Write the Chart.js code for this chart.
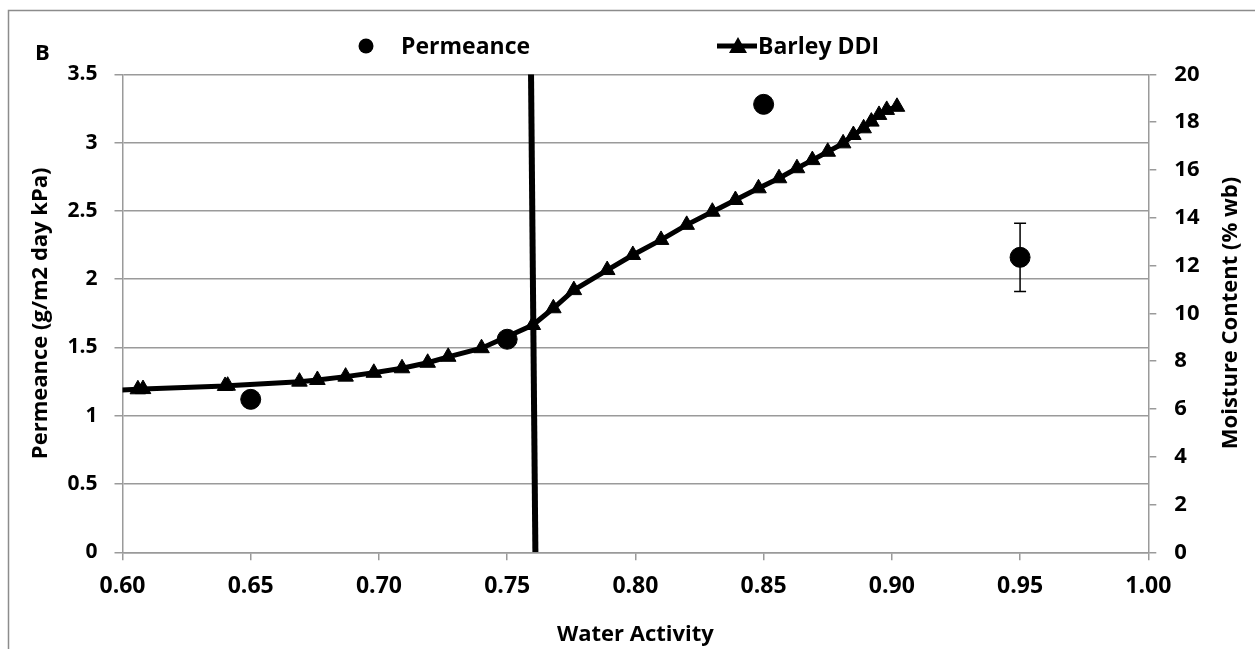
<!DOCTYPE html>
<html>
<head>
<meta charset="utf-8">
<script src="https://cdn.jsdelivr.net/npm/chart.js@4"></script>
<style>
  html, body { margin: 0; padding: 0; background: #fff; }
  canvas { display: block; }
</style>
</head>
<body>
<canvas id="chart" width="1255" height="649"></canvas>
<script>
// Permeance measurements (left axis)
const permX = [0.65, 0.75, 0.85, 0.95];
const permY = [1.12, 1.56, 3.28, 2.16];
const permErrLow = [null, null, null, 1.91];
const permErrHigh = [null, null, null, 2.41];

// Barley DDI isotherm (right axis)
const ddiX = [0.590, 0.606, 0.608, 0.640, 0.641, 0.669, 0.676, 0.687, 0.698, 0.709, 0.719, 0.727, 0.740, 0.760,
              0.768, 0.776, 0.789, 0.799, 0.810, 0.820, 0.830, 0.839, 0.848, 0.856, 0.863, 0.869, 0.875,
              0.881, 0.885, 0.889, 0.892, 0.895, 0.898, 0.902];
const ddiY = [6.75, 6.82, 6.83, 6.96, 6.97, 7.14, 7.21, 7.35, 7.51, 7.70, 7.93, 8.18, 8.54, 9.51,
              10.21, 10.97, 11.81, 12.44, 13.07, 13.70, 14.25, 14.74, 15.23, 15.65, 16.07, 16.41, 16.76,
              17.11, 17.46, 17.74, 18.02, 18.30, 18.51, 18.64];

// vertical marker line
const markX = [0.7610, 0.7593];
const markY = [0, 3.5];

// tick labels
const xTicks = [0.60, 0.65, 0.70, 0.75, 0.80, 0.85, 0.90, 0.95, 1.00];
const leftTicks = [0, 0.5, 1, 1.5, 2, 2.5, 3, 3.5];
const rightTicks = [0, 2, 4, 6, 8, 10, 12, 14, 16, 18, 20];

const FONT = "'Open Sans', sans-serif";
const GRID = '#9a9a9a';

const pts = (xs, ys) => xs.map((x, i) => ({x: x, y: ys[i]}));

const extras = {
    id: 'extras',
    beforeDraw(chart) {
        const c = chart.ctx;
        c.save();
        c.fillStyle = '#fff';
        c.fillRect(0, 0, chart.width, chart.height);
        c.strokeStyle = '#8c8c8c';
        c.lineWidth = 1.5;
        c.strokeRect(8.5, 10.5, 1300, 700);
        c.restore();
    },
    beforeDatasetsDraw(chart) {
        const c = chart.ctx, xs = chart.scales.x, ys = chart.scales.y;
        c.save();
        c.strokeStyle = '#000';
        c.lineWidth = 1.5;
        permX.forEach((v, i) => {
            if (permErrLow[i] == null) return;
            const px = xs.getPixelForValue(v);
            const lo = ys.getPixelForValue(permErrLow[i]);
            const hi = ys.getPixelForValue(permErrHigh[i]);
            c.beginPath();
            c.moveTo(px, lo); c.lineTo(px, hi);
            c.moveTo(px - 6, lo); c.lineTo(px + 6, lo);
            c.moveTo(px - 6, hi); c.lineTo(px + 6, hi);
            c.stroke();
        });
        c.restore();
    },
    afterDraw(chart) {
        const c = chart.ctx;
        c.save();
        c.fillStyle = '#000';
        c.strokeStyle = '#000';
        // panel letter
        c.font = 'bold 22px ' + FONT;
        c.textBaseline = 'alphabetic';
        c.fillText('B', 35, 60);
        // legend
        c.font = 'bold 23px ' + FONT;
        c.beginPath();
        c.arc(366, 46, 7.5, 0, Math.PI * 2);
        c.fill();
        c.fillText('Permeance', 401, 54);
        c.lineWidth = 5;
        c.beginPath();
        c.moveTo(717, 46); c.lineTo(757, 46);
        c.stroke();
        c.beginPath();
        c.moveTo(738, 37); c.lineTo(747, 53); c.lineTo(729, 53);
        c.closePath();
        c.fill();
        c.fillText('Barley DDI', 758, 54);
        // right axis title
        c.font = 'bold 22px ' + FONT;
        c.translate(1231, 313);
        c.rotate(-Math.PI / 2);
        c.textAlign = 'center';
        c.textBaseline = 'middle';
        c.fillText('Moisture Content (% wb)', 0, 0);
        c.restore();
    }
};

new Chart(document.getElementById('chart'), {
    type: 'scatter',
    data: {
        datasets: [{
            label: 'Permeance',
            data: pts(permX, permY),
            yAxisID: 'y',
            backgroundColor: '#000',
            borderColor: '#000',
            pointRadius: 10,
            showLine: false,
            order: 0
        }, {
            label: 'marker',
            data: pts(markX, markY),
            yAxisID: 'y',
            borderColor: '#000',
            borderWidth: 6,
            pointRadius: 0,
            showLine: true,
            order: 1
        }, {
            label: 'Barley DDI',
            data: pts(ddiX, ddiY),
            yAxisID: 'y2',
            borderColor: '#000',
            backgroundColor: '#000',
            borderWidth: 5,
            pointStyle: 'triangle',
            pointRadius: 9,
            pointBorderWidth: 1,
            showLine: true,
            tension: 0,
            order: 2
        }]
    },
    options: {
        responsive: false,
        animation: false,
        events: [],
        layout: { padding: { top: 74.3 } },
        plugins: {
            legend: { display: false },
            tooltip: { enabled: false }
        },
        scales: {
            x: {
                type: 'linear',
                min: 0.6,
                max: 1.0,
                afterBuildTicks: s => { s.ticks = xTicks.map(v => ({value: v})); },
                afterFit: s => { s.height = 96.7; },
                ticks: {
                    callback: v => v.toFixed(2),
                    font: { family: FONT, size: 23, weight: 'bold' },
                    color: '#000',
                    padding: 12
                },
                grid: { drawOnChartArea: false, drawTicks: true, tickLength: 8, color: GRID, lineWidth: 1.5 },
                border: { color: GRID, width: 1.5 },
                title: {
                    display: true,
                    text: 'Water Activity',
                    font: { family: FONT, size: 22, weight: 'bold' },
                    color: '#000',
                    padding: { top: 0, bottom: 1 }
                }
            },
            y: {
                position: 'left',
                min: 0,
                max: 3.5,
                afterBuildTicks: s => { s.ticks = leftTicks.map(v => ({value: v})); },
                afterFit: s => { s.width = 122.5; },
                ticks: {
                    callback: v => String(v),
                    font: { family: FONT, size: 21, weight: 'bold' },
                    color: '#000',
                    padding: 17
                },
                grid: { drawTicks: true, tickLength: 8, color: GRID, lineWidth: 1.5 },
                border: { color: GRID, width: 1.5 },
                title: {
                    display: true,
                    text: 'Permeance (g/m2 day kPa)',
                    font: { family: FONT, size: 22, weight: 'bold' },
                    color: '#000',
                    padding: { top: 28, bottom: 0 }
                }
            },
            y2: {
                position: 'right',
                min: 0,
                max: 20,
                afterBuildTicks: s => { s.ticks = rightTicks.map(v => ({value: v})); },
                afterFit: s => { s.width = 106.7; },
                ticks: {
                    callback: v => String(v),
                    font: { family: FONT, size: 22, weight: 'bold' },
                    color: '#000',
                    padding: 18
                },
                grid: { drawOnChartArea: false, drawTicks: true, tickLength: 8, color: GRID, lineWidth: 1.5 },
                border: { color: GRID, width: 1.5 }
            }
        }
    },
    plugins: [extras]
});
</script>
</body>
</html>
